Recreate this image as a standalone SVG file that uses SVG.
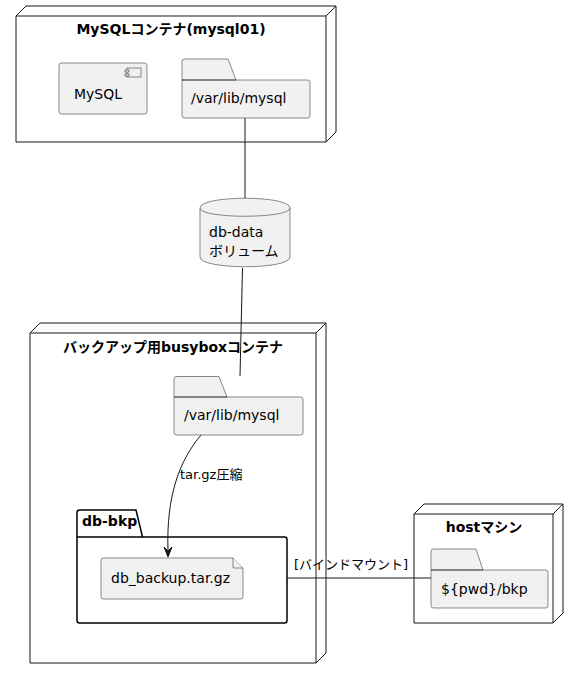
<svg xmlns="http://www.w3.org/2000/svg" width="581" height="679" viewBox="0 0 581 679">
<style>
text{font-family:"DejaVu Sans","Noto Sans CJK JP",sans-serif;font-size:14px;fill:#000}
.t{font-weight:bold}
.lbl{font-size:13px}
.node{fill:#fff;stroke:#181818;stroke-width:1}
.el{fill:#F1F1F1;stroke:#181818;stroke-width:0.5}
.pkg{fill:none;stroke:#000;stroke-width:1.5}
.ln{fill:none;stroke:#181818;stroke-width:1}
</style>
<rect width="581" height="679" fill="#fff"/>
<g id="node-mysql">
<path class="node" d="M16,16 L26,6 L336,6 L336,132 L326,142 L16,142 Z"/>
<path class="ln" d="M16,16 L326,16 L336,6 M326,16 L326,142"/>
<text class="t" x="171" y="34" text-anchor="middle">MySQLコンテナ(mysql01)</text>
</g>
<g id="comp-mysql">
<rect class="el" x="59" y="63" width="88" height="51" rx="2.5"/>
<rect class="el" x="127" y="68" width="14" height="9"/>
<rect class="el" x="125" y="70" width="4" height="2"/>
<rect class="el" x="125" y="74" width="4" height="2"/>
<text x="74" y="99">MySQL</text>
</g>
<g id="folder-mysql1">
<path class="el" d="M182,80 L182,61.5 Q182,59 184.5,59 L228,59 L236,80 L307.5,80 Q310,80 310,82.5 L310,115.5 Q310,118 307.5,118 L184.5,118 Q182,118 182,115.5 Z"/>
<path class="ln" d="M182,80 L236,80" stroke-width="0.5"/>
<text x="191" y="103">/var/lib/mysql</text>
</g>
<g id="db-data">
<path class="el" d="M200,208 C200,195 290,195 290,208 L290,257 C290,270 200,270 200,257 Z"/>
<path class="el" fill="none" d="M200,208 C200,219 290,219 290,208"/>
<text x="209" y="237">db-data</text>
<text x="209" y="256">ボリューム</text>
</g>
<g id="node-busybox">
<path class="node" d="M30,333 L40,323 L326,323 L326,653 L316,663 L30,663 Z"/>
<path class="ln" d="M30,333 L316,333 L326,323 M316,333 L316,663"/>
<text class="t" x="173" y="352" text-anchor="middle">バックアップ用busyboxコンテナ</text>
</g>
<g id="folder-mysql2">
<path class="el" d="M174,397 L174,379 Q174,376.5 176.5,376.5 L219,376.5 L227,397 L300.5,397 Q303,397 303,399.5 L303,432.5 Q303,435 300.5,435 L176.5,435 Q174,435 174,432.5 Z"/>
<path class="ln" d="M174,397 L227,397" stroke-width="0.5"/>
<text x="184" y="420">/var/lib/mysql</text>
</g>
<g id="pkg-dbbkp">
<path class="pkg" d="M77,537 L77,512.5 Q77,510 79.5,510 L136,510 L142.5,537 L284.5,537 Q287,537 287,539.5 L287,620.5 Q287,623 284.5,623 L79.5,623 Q77,623 77,620.5 Z"/>
<path class="pkg" d="M77,537 L142.5,537"/>
<text class="t" x="82" y="526">db-bkp</text>
</g>
<g id="file-backup">
<path class="el" d="M101,560.5 Q101,558 103.5,558 L233,558 L243,568 L243,596.5 Q243,599 240.5,599 L103.5,599 Q101,599 101,596.5 Z"/>
<path class="el" d="M233,558 L233,568 L243,568"/>
<text x="111" y="583">db_backup.tar.gz</text>
</g>
<g id="node-host">
<path class="node" d="M414,514 L424,504 L563,504 L563,613 L553,623 L414,623 Z"/>
<path class="ln" d="M414,514 L553,514 L563,504 M553,514 L553,623"/>
<text class="t" x="484" y="532" text-anchor="middle">hostマシン</text>
</g>
<g id="folder-pwd">
<path class="el" d="M431,570 L431,551.5 Q431,549 433.5,549 L476,549 L483,570 L545.5,570 Q548,570 548,572.5 L548,605.5 Q548,608 545.5,608 L433.5,608 Q431,608 431,605.5 Z"/>
<path class="ln" d="M431,570 L483,570" stroke-width="0.5"/>
<text x="441" y="594">${pwd}/bkp</text>
</g>
<g id="connectors">
<path class="ln" d="M245,118 L245,198"/>
<path class="ln" d="M242.5,268 L240,376"/>
<path class="ln" d="M201,435 C180,460 166,495 168,551"/>
<polygon fill="#181818" stroke="#181818" points="168,557 164,547 168,551 172,547"/>
<text class="lbl" x="180" y="479">tar.gz圧縮</text>
<path class="ln" d="M287,578 L431,578"/>
<text class="lbl" x="294" y="569">[バインドマウント]</text>
</g>
</svg>
